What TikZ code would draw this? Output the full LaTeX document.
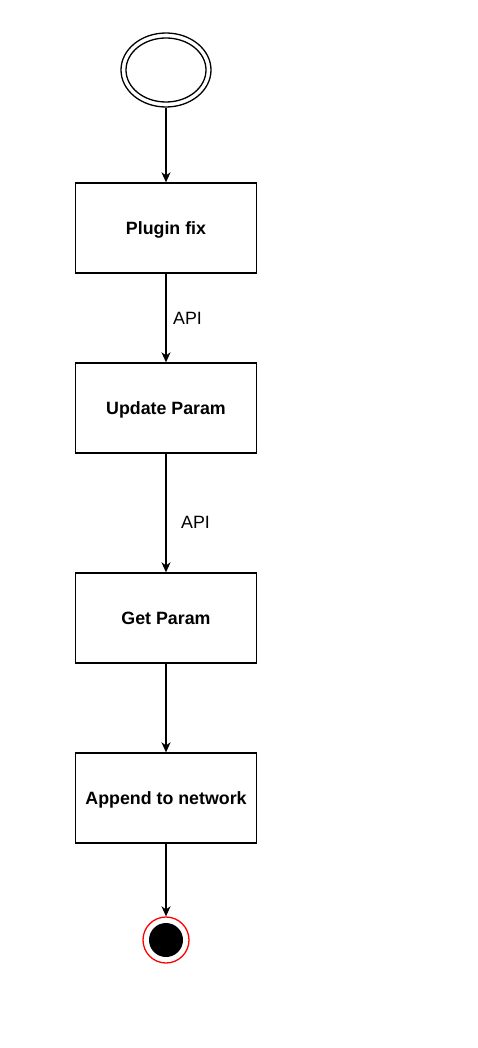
\documentclass[tikz,border=0pt]{standalone}
\usepackage{fontspec}
\setmainfont{Liberation Sans}
\usetikzlibrary{arrows.meta,shapes.geometric}
\begin{document}
\begin{tikzpicture}[x=1pt,y=-1pt,
  box/.style={draw=black,fill=white,line width=1.3pt,minimum width=181pt,minimum height=90pt,inner sep=0pt,text height=13.2pt,text depth=0pt,font=\fontsize{17.8}{20}\selectfont\bfseries},
  conn/.style={line width=1.4pt,-{Stealth[length=10pt,width=9pt,inset=3pt]}},
  lbl/.style={font=\fontsize{17.8}{20}\selectfont,fill=white,inner sep=1pt}]
\useasboundingbox[fill=white] (0,0) rectangle (478,1048);
\node[draw,line width=1.3pt,ellipse,minimum width=90pt,minimum height=74pt,inner sep=0pt] (start) at (166,70) {};
\draw[line width=1.3pt] (start.center) ellipse [x radius=40, y radius=32];
\node[box] (b1) at (166,228) {Plugin fix};
\node[box] (b2) at (166,408) {Update Param};
\node[box] (b3) at (166,618) {Get Param};
\node[box] (b4) at (166,798) {Append to network};
\node[circle,draw=red,line width=1.3pt,minimum size=46pt,inner sep=0pt] (end) at (166,940) {};
\fill[black] (end.center) circle (17);
\draw[conn] (start) -- (b1);
\draw[conn] (b1) -- node[lbl,right,xshift=5.5pt,yshift=0pt] {API} (b2);
\draw[conn] (b2) -- node[lbl,right,xshift=13.5pt,yshift=-9pt] {API} (b3);
\draw[conn] (b3) -- (b4);
\draw[conn] (b4) -- (end);
\end{tikzpicture}
\end{document}
